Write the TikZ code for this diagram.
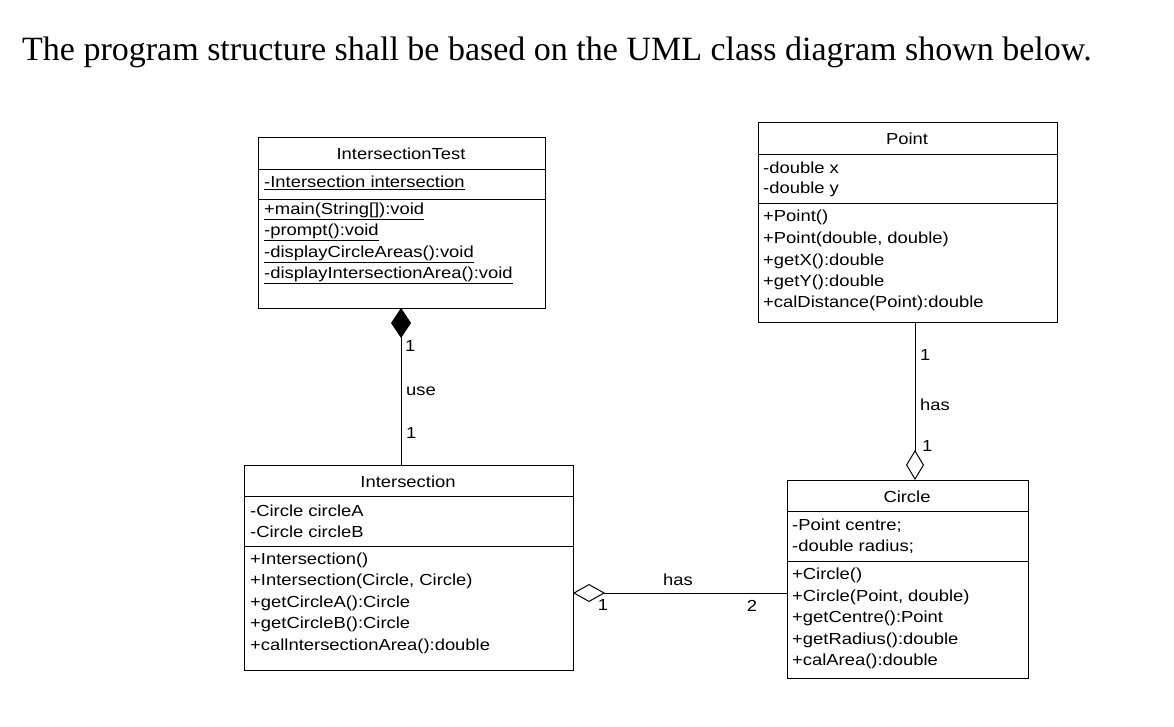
\documentclass[tikz,border=0pt]{standalone}
\usepackage{fontspec}
\setmainfont{Liberation Sans}
\newfontfamily\uml{Liberation Sans}[FakeStretch=1.15]
\newfontfamily\serifhead{Liberation Serif}
\usetikzlibrary{arrows.meta}
\begin{document}
\begin{tikzpicture}[x=1pt,y=-1pt,
  box/.style={draw,line width=1pt,inner sep=0pt},
  txt/.style={anchor=west,inner sep=0pt,font=\uml\fontsize{16}{16}\selectfont},
  ttl/.style={inner sep=0pt,font=\uml\fontsize{16}{16}\selectfont},
  lbl/.style={inner sep=0pt,font=\uml\fontsize{16}{16}\selectfont},
  conn/.style={line width=1pt},
  comp/.style={{Diamond[length=30pt,width=20pt,fill=black]}-},
  aggrend/.style={-{Diamond[length=30pt,width=18pt,open,fill=white]}},
  aggrstart/.style={{Diamond[length=32pt,width=18pt,open,fill=white]}-}]
\useasboundingbox (0,0) rectangle (1174,726);
\node[anchor=base west,inner sep=0pt,font=\serifhead\fontsize{34}{34}\selectfont] (head) at (22,60) {The program structure shall be based on the UML class diagram shown below.};

% IntersectionTest
\draw[box] (258,137) rectangle (545,308);
\coordinate (itb) at (401,308);
\draw[line width=1pt] (258,169) -- (545,169) (258,199) -- (545,199);
\node[ttl] (it0) at (401,154) {IntersectionTest};
\node[txt] (it1) at (264,183) {\underline{-Intersection intersection}};
\node[txt] (it2) at (264,211) {\underline{+main(String[]):void}};
\node[txt] (it3) at (264,232) {\underline{-prompt():void}};
\node[txt] (it4) at (264,254) {\underline{-displayCircleAreas():void}};
\node[txt] (it5) at (264,275) {\underline{-displayIntersectionArea():void}};

% Point
\draw[box] (758,122) rectangle (1057,322);
\coordinate (ptb) at (915,322);
\draw[line width=1pt] (758,154) -- (1057,154) (758,203) -- (1057,203);
\node[ttl] (p0) at (907,139) {Point};
\node[txt] (p1) at (763,168) {-double x};
\node[txt] (p2) at (763,189) {-double y};
\node[txt] (p3) at (763,217) {+Point()};
\node[txt] (p4) at (763,239) {+Point(double, double)};
\node[txt] (p5) at (763,261) {+getX():double};
\node[txt] (p6) at (763,282) {+getY():double};
\node[txt] (p7) at (763,303) {+calDistance(Point):double};

% Intersection
\draw[box] (244,465) rectangle (573,670);
\coordinate (inT) at (401,465);
\coordinate (inR) at (573,593);
\draw[line width=1pt] (244,496) -- (573,496) (244,546) -- (573,546);
\node[ttl] (i0) at (408,482) {Intersection};
\node[txt] (i1) at (250,511) {-Circle circleA};
\node[txt] (i2) at (250,532) {-Circle circleB};
\node[txt] (i3) at (250,560) {+Intersection()};
\node[txt] (i4) at (250,581) {+Intersection(Circle, Circle)};
\node[txt] (i5) at (250,603) {+getCircleA():Circle};
\node[txt] (i6) at (250,624) {+getCircleB():Circle};
\node[txt] (i7) at (250,646) {+callntersectionArea():double};

% Circle
\draw[box] (787,480) rectangle (1028,678);
\coordinate (ciT) at (915,480);
\coordinate (ciL) at (787,593);
\draw[line width=1pt] (787,511) -- (1028,511) (787,561) -- (1028,561);
\node[ttl] (c0) at (907,497) {Circle};
\node[txt] (c1) at (792,526) {-Point centre;};
\node[txt] (c2) at (792,547) {-double radius;};
\node[txt] (c3) at (792,575) {+Circle()};
\node[txt] (c4) at (792,597) {+Circle(Point, double)};
\node[txt] (c5) at (792,618) {+getCentre():Point};
\node[txt] (c6) at (792,640) {+getRadius():double};
\node[txt] (c7) at (792,661) {+calArea():double};

% connectors
\draw[conn,comp] (itb) -- (inT);
\draw[conn,aggrend] (ptb) -- (ciT);
\draw[conn,aggrstart] (inR) -- (ciL);

\node[lbl,anchor=west] (l1) at (405,346) {1};
\node[lbl,anchor=west] (l2) at (406,391) {use};
\node[lbl,anchor=west] (l3) at (406,433) {1};
\node[lbl,anchor=west] (l4) at (920,355) {1};
\node[lbl,anchor=west] (l5) at (920,405) {has};
\node[lbl,anchor=west] (l6) at (922,446) {1};
\node[lbl] (l7) at (678,580) {has};
\node[lbl] (l8) at (603,605) {1};
\node[lbl] (l9) at (752,606) {2};
\end{tikzpicture}
\end{document}
